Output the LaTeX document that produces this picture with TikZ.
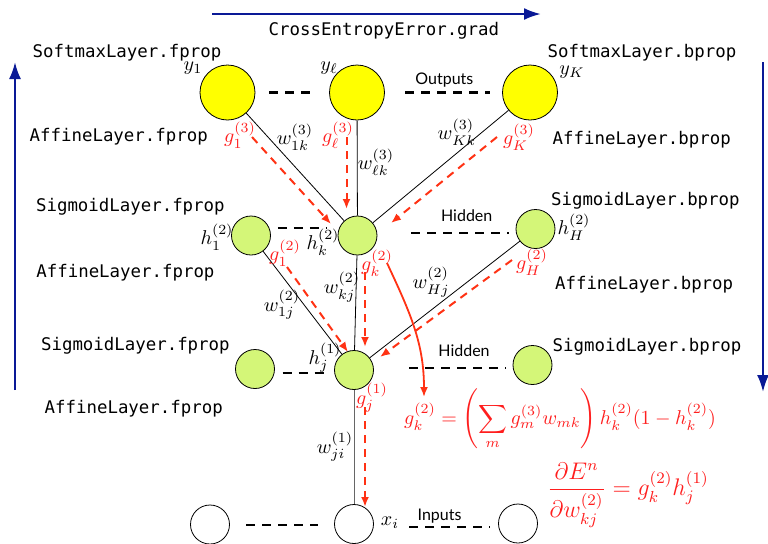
\documentclass[tikz,border=0pt]{standalone}
\usepackage{amsmath,amssymb}
\usepackage{fontspec}
\newfontfamily\codefont{DejaVu Sans Mono}
\newfontfamily\layerfont{Lato}
\usetikzlibrary{arrows.meta,positioning,calc}
\definecolor{outyellow}{RGB}{255,255,0}
\definecolor{hidgreen}{RGB}{212,246,120}
\definecolor{backred}{RGB}{255,50,20}
\definecolor{gradred}{RGB}{255,30,30}
\definecolor{flowblue}{RGB}{10,25,150}

\begin{document}
\begin{tikzpicture}[x=0.5pt,y=-0.5pt,
outunit/.style={draw, circle, thin, fill=outyellow, minimum size=27.5pt, inner sep=0pt},
hidunit/.style={draw, circle, thin, fill=hidgreen, minimum size=19.5pt, inner sep=0pt},
inunit/.style={draw, circle, thin, fill=white, minimum size=19.5pt, inner sep=0pt},
weight/.style={draw, thin},
gap/.style={line width=1.1pt, dash pattern=on 4.5pt off 3.5pt},
back/.style={draw=backred, line width=1pt, dash pattern=on 4pt off 3pt, -{Latex[length=5pt,width=4pt]}},
flow/.style={draw=flowblue, line width=1.2pt, -{Latex[length=8.5pt,width=6pt]}},
code/.style={font=\codefont\fontsize{8.7}{10}\selectfont, anchor=base west, inner sep=0pt},
layer/.style={font=\layerfont\fontsize{8}{10}\selectfont, anchor=base west, inner sep=0pt},
grad/.style={text=gradred, inner sep=0pt},
lab/.style={inner sep=0pt}
]
\useasboundingbox (0,0) rectangle (768,543);

% units
\node[outunit] (y1) at (227.5,92.5) {};
\node[outunit] (yl) at (357,92.5) {};
\node[outunit] (yK) at (530,92.5) {};
\node[hidunit] (h1) at (251,235.5) {};
\node[hidunit] (hk) at (357.5,235.5) {};
\node[hidunit] (hH) at (535.5,229) {};
\node[hidunit] (z1) at (255,369) {};
\node[hidunit] (hj) at (354,370) {};
\node[hidunit] (zJ) at (532.5,365) {};
\node[inunit] (x1) at (210,524.5) {};
\node[inunit] (xi) at (354,524) {};
\node[inunit] (xI) at (518,523.5) {};

% weights
\draw[weight] (y1) -- (hk);
\draw[weight] (yl) -- (hk);
\draw[weight] (yK) -- (hk);
\draw[weight] (h1) -- (hj);
\draw[weight] (hk) -- (hj);
\draw[weight] (hH) -- (hj);
\draw[weight, black!60] (hj) -- (xi);

% dots between units
\draw[gap] ([xshift=7pt]y1.east) -- ([xshift=-9.75pt]yl.west);
\draw[gap] ([xshift=10.25pt]yl.east) -- ([xshift=-6.25pt]yK.west);
\draw[gap] ([xshift=3.5pt,yshift=3.75pt]h1.east) -- ([xshift=-5.5pt,yshift=3.75pt]hk.west);
\draw[gap] ([xshift=16.85pt,yshift=1.4pt]hk.east) -- ([xshift=-3.5pt,yshift=-1.85pt]hH.west);
\draw[gap] ([xshift=3.85pt,yshift=-2pt]z1.east) -- ([xshift=-3.9pt,yshift=-1.5pt]hj.west);
\draw[gap] ([xshift=17.75pt,yshift=1.15pt]hj.east) -- ([xshift=-3.1pt,yshift=-1.35pt]zJ.west);
\draw[gap] ([xshift=8.25pt,yshift=-0.25pt]x1.east) -- ([xshift=-8.1pt,yshift=-0.5pt]xi.west);
\draw[gap] ([xshift=17.75pt,yshift=-1.35pt]xi.east) -- ([xshift=-4.25pt,yshift=-1.6pt]xI.west);

% layer names
\node[layer] (outs) at (415,84) {Outputs};
\node[layer] (hidu) at (440.7,221) {Hidden};
\node[layer] (hidl) at (438,356) {Hidden};
\node[layer] (ins) at (417.3,520) {Inputs};

% unit labels
\node[lab] (ly1) at (193,68) {$y_1$};
\node[lab] (lyl) at (329,68) {$y_\ell$};
\node[lab] (lyK) at (572,72) {$y_K$};
\node[lab] (lh1) at (217,237) {$h_1^{(2)}$};
\node[lab] (lhk) at (323,242) {$h_k^{(2)}$};
\node[lab] (lhH) at (574,227) {$h_H^{(2)}$};
\node[lab] (lhj) at (325,358) {$h_j^{(1)}$};
\node[lab] (lxi) at (390,523) {$x_i$};

% weight labels
\node[lab] (lw1k) at (295,137) {$w_{1k}^{(3)}$};
\node[lab] (lwlk) at (376,162) {$w_{\ell k}^{(3)}$};
\node[lab] (lwKk) at (457,132) {$w_{Kk}^{(3)}$};
\node[lab] (lwkj) at (342,287) {$w_{kj}^{(2)}$};
\node[lab] (lw1j) at (282,305) {$w_{1j}^{(2)}$};
\node[lab] (lwHj) at (431,282) {$w_{Hj}^{(2)}$};
\node[lab] (lwji) at (335,447) {$w_{ji}^{(1)}$};

% gradient labels
\node[grad] (lg13) at (240,135) {$g_1^{(3)}$};
\node[grad] (lgl3) at (338,135) {$g_\ell^{(3)}$};
\node[grad] (lgK3) at (519,137) {$g_K^{(3)}$};
\node[grad] (lg12) at (285,253) {$g_1^{(2)}$};
\node[grad] (lgk2) at (377,263) {$g_k^{(2)}$};
\node[grad] (lgH2) at (532,262) {$g_H^{(2)}$};
\node[grad] (lgj1) at (372,398) {$g_j^{(1)}$};

% backward pass
\coordinate (b1s) at (252,137);  \coordinate (b1e) at (331,224);
\coordinate (b2s) at (346.5,137); \coordinate (b2e) at (346.5,209);
\coordinate (b3s) at (497,137);  \coordinate (b3e) at (391,223);
\coordinate (b4s) at (287,267);  \coordinate (b4e) at (348,352);
\coordinate (b5s) at (365,272);  \coordinate (b5e) at (365,347);
\coordinate (b6s) at (512,260);  \coordinate (b6e) at (380,357);
\coordinate (b7s) at (365,407);  \coordinate (b7e) at (365,507);
\draw[back] (b1s) -- (b1e);
\draw[back] (b2s) -- (b2e);
\draw[back] (b3s) -- (b3e);
\draw[back] (b4s) -- (b4e);
\draw[back] (b5s) -- (b5e);
\draw[back] (b6s) -- (b6e);
\draw[back] (b7s) -- (b7e);

% equations
\node[grad] (eqg) at (560,419) {$\displaystyle g_k^{(2)} = \left(\sum_m g_m^{(3)} w_{mk}\right) h_k^{(2)}(1-h_k^{(2)})$};
\node[grad] (eqd) at (628,495) {\large$\displaystyle \frac{\partial E^n}{\partial w_{kj}^{(2)}} = g_k^{(2)} h_j^{(1)}$};
\coordinate (cs) at (387,263);
\coordinate (ce) at (424,397);
\draw[draw=backred, line width=0.9pt, -{Latex[length=5pt,width=4pt]}] (cs) to[out=-65,in=90] (ce);

% layer calls
\node[code] (sfp) at (32.3,57) {SoftmaxLayer.fprop};
\node[code] (afp3) at (29.3,141.5) {AffineLayer.fprop};
\node[code] (gfp2) at (35.7,211.7) {SigmoidLayer.fprop};
\node[code] (afp2) at (36,277.3) {AffineLayer.fprop};
\node[code] (gfp1) at (40.7,350.7) {SigmoidLayer.fprop};
\node[code] (afp1) at (44.3,413.3) {AffineLayer.fprop};
\node[code] (sbp) at (547.3,57.7) {SoftmaxLayer.bprop};
\node[code] (abp3) at (552.3,144) {AffineLayer.bprop};
\node[code] (gbp2) at (550.7,205) {SigmoidLayer.bprop};
\node[code] (abp2) at (554.7,289.3) {AffineLayer.bprop};
\node[code] (gbp1) at (552.3,351.7) {SigmoidLayer.bprop};
\node[code] (ceg) at (268.3,35) {CrossEntropyError.grad};

% direction arrows
\coordinate (fw0) at (15,390);  \coordinate (fw1) at (15,62);
\coordinate (bw0) at (763,62);  \coordinate (bw1) at (763,392);
\coordinate (cg0) at (212,14);  \coordinate (cg1) at (541,14);
\draw[flow] (fw0) -- (fw1);
\draw[flow] (bw0) -- (bw1);
\draw[flow] (cg0) -- (cg1);
\end{tikzpicture}
\end{document}
